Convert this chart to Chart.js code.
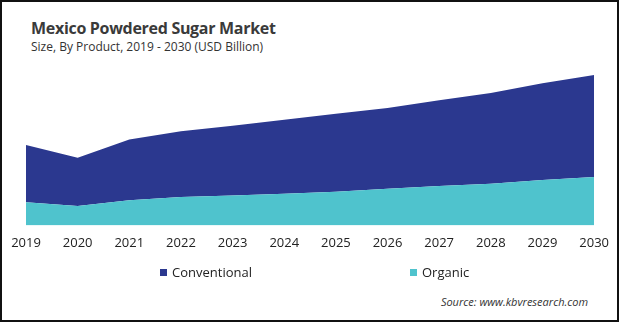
<!DOCTYPE html>
<html>
<head>
<meta charset="utf-8">
<script src="https://cdn.jsdelivr.net/npm/chart.js@4"></script>
<style>
  html, body { margin: 0; padding: 0; background: #fff; }
  #frame {
    position: relative; width: 619px; height: 322px;
    box-sizing: border-box; border: 2px solid #111; overflow: hidden;
    font-family: "Open Sans", sans-serif; color: #333;
  }
  #title { position: absolute; left: 29px; top: 15px; font-size: 16px; letter-spacing: -0.3px; font-weight: bold; color: #3a3a3a; white-space: nowrap; }
  #subtitle { position: absolute; left: 29px; top: 36px; font-size: 12px; color: #333; white-space: nowrap; }
  #chartBox { position: absolute; left: -2px; top: 58px; width: 619px; height: 211px; }
  #legend { position: absolute; top: 260px; left: 0; width: 615px; height: 20px; font-size: 13px; color: #222; }
  .item { position: absolute; top: 0; white-space: nowrap; line-height: 20px; }
  .box { display: inline-block; width: 7px; height: 7px; margin-right: 5px; vertical-align: 1px; }
  #source { position: absolute; right: 29px; top: 292px; font-size: 11px; font-style: italic; color: #333; white-space: nowrap; }
</style>
</head>
<body>
<div id="frame">
  <div id="title">Mexico Powdered Sugar Market</div>
  <div id="subtitle">Size, By Product, 2019 - 2030 (USD Billion)</div>
  <div id="chartBox"><canvas id="marketChart"></canvas></div>
  <div id="legend"></div>
  <div id="source">Source: www.kbvresearch.com</div>
</div>
<script>
// Daten (USD Billion, aus dem Bild geschaetzt)
const years = ['2019', '2020', '2021', '2022', '2023', '2024', '2025', '2026', '2027', '2028', '2029', '2030'];
const organic = [0.092, 0.077, 0.100, 0.113, 0.119, 0.125, 0.133, 0.145, 0.156, 0.165, 0.180, 0.192];
const conventional = [0.227, 0.191, 0.240, 0.260, 0.276, 0.294, 0.310, 0.320, 0.340, 0.360, 0.383, 0.404];

const ctx = document.getElementById('marketChart');

const chart = new Chart(ctx, {
  type: 'line',
  data: {
    labels: years,
    datasets: [
      {
        label: 'Organic',
        data: organic,
        backgroundColor: '#4fc3cd',
        borderWidth: 0,
        pointRadius: 0,
        tension: 0,
        fill: 'origin'
      },
      {
        label: 'Conventional',
        data: conventional,
        backgroundColor: '#2b388f',
        borderWidth: 0,
        pointRadius: 0,
        tension: 0,
        fill: '-1'
      }
    ]
  },
  options: {
    responsive: true,
    maintainAspectRatio: false,
    animation: false,
    layout: {
      padding: { top: 12, left: 26, right: 24, bottom: 10 }
    },
    scales: {
      x: {
        grid: { display: false, drawTicks: false },
        border: { display: false },
        ticks: {
          padding: 10,
          color: '#222',
          font: { family: 'Open Sans', size: 13 },
          maxRotation: 0,
          autoSkip: false
        }
      },
      y: {
        display: false,
        stacked: true,
        min: 0,
        max: 0.608
      }
    },
    plugins: {
      legend: { display: false },
      tooltip: { enabled: false }
    }
  }
});

// HTML-Legende aus den Datasets (Reihenfolge wie im Original)
const legendEl = document.getElementById('legend');
const legendX = { 'Conventional': 158, 'Organic': 408 };
chart.data.datasets.slice().reverse().forEach(ds => {
  const item = document.createElement('div');
  item.className = 'item';
  item.style.left = legendX[ds.label] + 'px';
  const box = document.createElement('span');
  box.className = 'box';
  box.style.background = ds.backgroundColor;
  item.appendChild(box);
  item.appendChild(document.createTextNode(ds.label));
  legendEl.appendChild(item);
});
</script>
</body>
</html>
